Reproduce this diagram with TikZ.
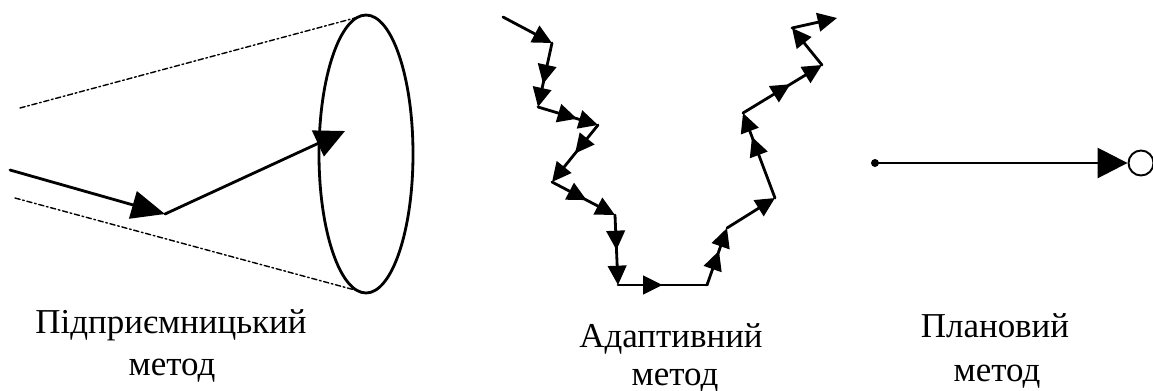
\documentclass[tikz,border=0pt]{standalone}
\usepackage{fontspec}
\setmainfont{Liberation Serif}
\usetikzlibrary{arrows.meta,decorations.markings}
\begin{document}
\begin{tikzpicture}[x=0.02cm, y=-0.02cm, line join=round, line cap=round,
	lbl/.style={font=\fontsize{19.9}{24}\selectfont, anchor=base, inner sep=0pt},
	thickline/.style={line width=1.6pt},
	rim/.style={dash pattern=on 3pt off 1.5pt on 1pt off 1.5pt, line width=0.8pt},
	walk/.style={thickline, -{Triangle[length=11pt,width=10.5pt]}},
	midtip/.style={postaction={decorate}, decoration={markings, mark=at position #1 with {\arrow{Triangle[length=11pt,width=10.5pt]}}}},
	goal/.style={circle, draw, line width=1.1pt, minimum size=0.5cm, inner sep=0pt}]
	\useasboundingbox (0,0) rectangle (1153,390);
	
	% конус
	\coordinate (cA) at (20,108);
	\coordinate (cB) at (366,15);
	\coordinate (cC) at (15,198);
	\coordinate (cD) at (366,293);
	\draw[rim] (cA)--(cB);
	\draw[rim] (cC)--(cD);
	\draw[thickline] (366,154) ellipse [x radius=47, y radius=139];
	\coordinate (e0) at (10,170);
	\coordinate (e1) at (165,214);
	\coordinate (e2) at (345,131);
	\draw[thickline, -{Triangle[length=19pt,width=16pt]}] (e0)--(e1);
	\draw[thickline, -{Triangle[length=17pt,width=16pt]}] (e1)--(e2);
	\node[lbl] (ent1) at (171,333) {Підприємницький};
	\node[lbl] (ent2) at (172,375) {метод};
	
	% ламана
	\coordinate (w0) at (503,17);
	\coordinate (w1) at (552,43);
	\coordinate (w2) at (538,107);
	\coordinate (w3) at (598,125);
	\coordinate (w4) at (552,182);
	\coordinate (w5) at (615,215);
	\coordinate (w6) at (618,285);
	\coordinate (w7) at (707,285);
	\coordinate (w8) at (727,228);
	\coordinate (w9) at (775,198);
	\coordinate (w10) at (743,113);
	\coordinate (w11) at (822,65);
	\coordinate (w12) at (792,28);
	\coordinate (w13) at (837,18);
	\draw[walk] (w0)--(w1);
	\draw[walk, midtip=0.64] (w1)--(w2);
	\draw[walk, midtip=0.65] (w2)--(w3);
	\draw[walk, midtip=0.5] (w3)--(w4);
	\draw[walk, midtip=0.55] (w4)--(w5);
	\draw[walk, midtip=0.5] (w5)--(w6);
	\draw[thickline, midtip=0.5] (w6)--(w7);
	\draw[walk, midtip=0.6] (w7)--(w8);
	\draw[walk] (w8)--(w9);
	\draw[walk, midtip=0.72] (w9)--(w10);
	\draw[walk, midtip=0.6] (w10)--(w11);
	\draw[walk] (w11)--(w12);
	\draw[walk] (w12)--(w13);
	\node[lbl] (ad1) at (671,347) {Адаптивний};
	\node[lbl] (ad2) at (675,385) {метод};
	
	% пряма
	\coordinate (p0) at (875,163);
	\node[goal] (p1) at (1141,163) {};
	\fill (p0) circle (4);
	\draw[thickline, -{Triangle[length=17pt,width=17pt]}] (p0)--(p1);
	\node[lbl] (pl1) at (995,337) {Плановий};
	\node[lbl] (pl2) at (997,381) {метод};
\end{tikzpicture}
\end{document}
